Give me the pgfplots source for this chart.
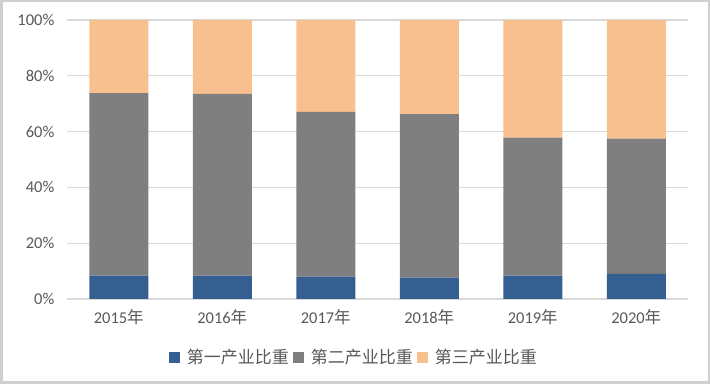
\documentclass[border=0pt]{standalone}
\usepackage{fontspec}
\setmainfont{Carlito}
\newfontfamily\cjk{Noto Sans CJK SC}
\usepackage{pgfplots}
\pgfplotsset{compat=1.18}
\definecolor{cBlue}{HTML}{355E91}
\definecolor{cGray}{HTML}{7F7F7F}
\definecolor{cOrange}{HTML}{F8BF8F}
\definecolor{cGrid}{HTML}{D9D9D9}
\definecolor{cText}{HTML}{595959}
\definecolor{cFrame}{HTML}{D0D0D0}
\begin{document}
\begin{tikzpicture}
\useasboundingbox (0,0) rectangle (710bp,384bp);
\draw[cFrame, line width=2bp] (1.5bp,1.5bp) rectangle (708.5bp,382.5bp);
\begin{axis}[
  at={(67bp,85bp)}, anchor=south west,
  scale only axis, width=621bp, height=279bp,
  ybar stacked, bar width=59bp,
  xmin=-0.5, xmax=5.5, ymin=0, ymax=100,
  xtick={0,1,2,3,4,5},
  xticklabels={2015{\cjk 年},2016{\cjk 年},2017{\cjk 年},2018{\cjk 年},2019{\cjk 年},2020{\cjk 年}},
  ytick={0,20,40,60,80,100},
  yticklabels={0\%,20\%,40\%,60\%,80\%,100\%},
  ymajorgrids, grid style={cGrid, line width=1.2bp},
  axis line style={draw=none},
  x axis line style={draw=cGrid, line width=1.5bp},
  axis x line*=bottom,
  major tick length=0pt,
  tick label style={font=\fontsize{16.5bp}{19bp}\selectfont, text=cText},
  yticklabel style={anchor=east, inner sep=0pt, xshift=-12.5bp},
  xticklabel style={anchor=north, inner sep=0pt, yshift=-10bp},
  legend style={at={(0.462,-0.208)}, anchor=center, draw=none, fill=none,
    legend columns=-1, font=\fontsize{17bp}{19bp}\selectfont, text=cText,
    /tikz/every odd column/.append style={column sep=5bp},
    /tikz/every even column/.append style={column sep=2bp}},
  legend image code/.code={\fill[#1] (-4bp,-5.5bp) rectangle (7bp,5.5bp);},
]
\addplot[fill=cBlue, draw=none] coordinates {(0,8.35) (1,8.35) (2,8.0) (3,7.7) (4,8.35) (5,9.0)};
\addplot[fill=cGray, draw=none] coordinates {(0,65.45) (1,65.15) (2,59.1) (3,58.6) (4,49.45) (5,48.5)};
\addplot[fill=cOrange, draw=none] coordinates {(0,26.2) (1,26.5) (2,32.9) (3,33.7) (4,42.2) (5,42.5)};
\legend{{\cjk 第一产业比重},{\cjk 第二产业比重},{\cjk 第三产业比重}}
\end{axis}
\end{tikzpicture}
\end{document}
